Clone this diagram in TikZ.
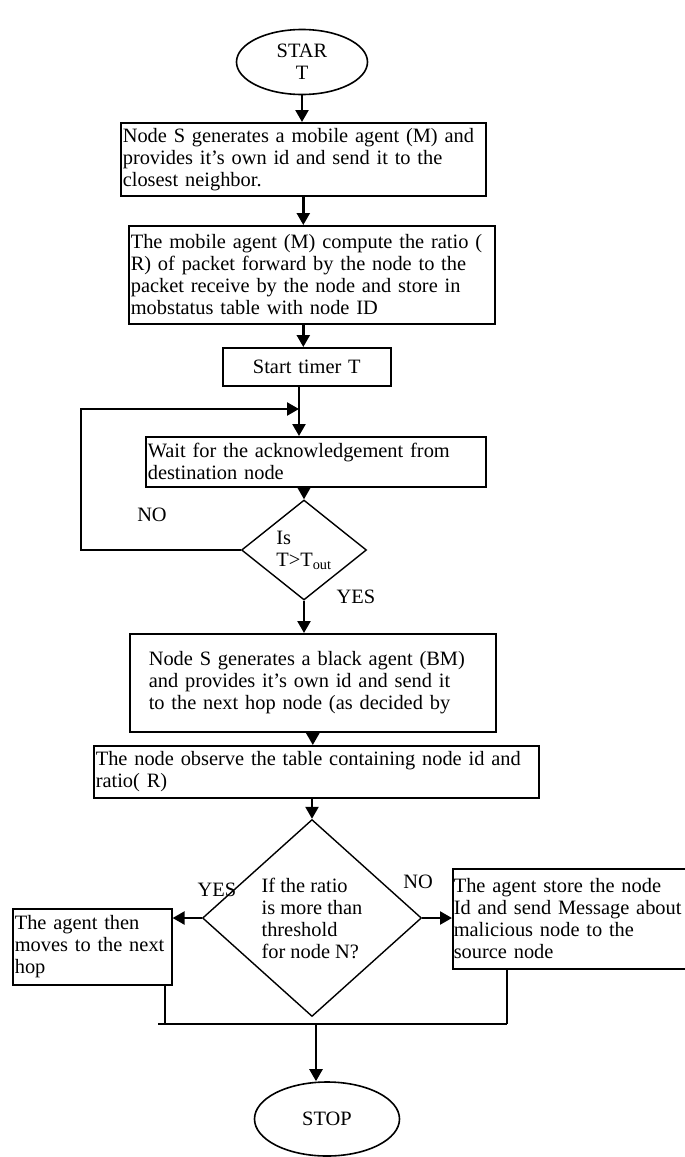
\documentclass[tikz,border=0pt]{standalone}
\usepackage{fontspec}
\setmainfont{Liberation Serif}
\usetikzlibrary{shapes.geometric,arrows.meta}

\begin{document}
\begin{tikzpicture}[
    x=1pt, y=-1pt,
    every node/.style={font=\fontsize{20.4}{22}\selectfont},
    box/.style={draw, line width=1.6pt, anchor=north west, align=left,
      inner xsep=2pt, inner ysep=0pt},
    terminal/.style={draw, ellipse, line width=1.6pt, align=center, inner sep=0pt},
    decision/.style={draw, diamond, line width=1.4pt, align=left, inner sep=0pt},
    arr/.style={line width=2.4pt, -{Triangle[length=12pt,width=13pt]}},
    link/.style={line width=1.8pt}
   ]
   \useasboundingbox (0,0) rectangle (685,1157);
   % main column
   \node[terminal, minimum width=131pt, minimum height=65pt] (start) at (302,62) {STAR\\T};
   \node[box, text width=361pt, minimum height=73pt] (gen) at (120,122)
     {Node S generates a mobile agent (M) and\\provides it’s own id and send it to the\\closest neighbor.};
   \node[box, text width=362pt, minimum height=98pt] (ratio) at (128,225)
     {The mobile agent (M) compute the ratio (\\R) of packet forward by the node to the\\packet receive by the node and store in\\mobstatus table with node ID};
   \node[box, text width=164pt, minimum height=38pt, align=center] (timer) at (222,347) {Start timer T};
   \node[box, text width=336pt, minimum height=50pt] (wait) at (145,436)
     {Wait for the acknowledgement from\\destination node};
   \node[decision, minimum width=125pt, minimum height=100pt, shape aspect=1.25] (chk) at (304,550)
     {Is\\T>T\textsubscript{out}};
   \node (no1) at (152,515) {NO};
   \node (yes1) at (356,597) {YES};
   \node[box, text width=328pt, inner xsep=19pt, minimum height=98pt] (bm) at (129,633)
     {Node S generates a black agent (BM)\\and provides it’s own id and send it\\to the next hop node (as decided by};
   \node[box, text width=441pt, minimum height=52pt] (obs) at (93,745)
     {The node observe the table containing node id and\\ratio( R)};
   \node[decision, minimum width=219pt, minimum height=197pt, shape aspect=1.1] (thr) at (312,918)
     {If the ratio\\is more than\\threshold\\for node N?};
   \node (yes2) at (217,890) {YES};
   \node (no2) at (418,882) {NO};
   % branches
   \node[box, text width=155pt, minimum height=76pt] (hop) at (12,908)
     {The agent then\\moves to the next\\hop};
   \node[box, text width=234pt, minimum height=100pt, inner xsep=1pt] (rep) at (452,868)
     {The agent store the node\\Id and send Message about\\malicious node to the\\source node};
   \node[terminal, minimum width=145pt, minimum height=74pt] (stop) at (327,1119) {STOP};

   \coordinate (mrg) at (299,409);
   \coordinate (loop) at (81,409);
   \coordinate (busL) at (158,1024);
   \coordinate (busR) at (507,1024);
   \coordinate (busH) at (165,1024);
   \coordinate (bus) at (316,1024);

   \draw[arr] (start.south) -- (start.south |- gen.north);
   \draw[arr] (gen.south) -- (gen.south |- ratio.north);
   \draw[arr] (ratio.south -| gen.south) -- (timer.north -| gen.south);
   \draw[link] (timer.south -| mrg) -- (mrg);
   \draw[arr] (mrg) -- (wait.north -| mrg);
   \draw[arr] (wait.south -| chk.north) -- (chk.north);
   \draw[arr] (chk.west) -| (loop) -- (mrg);
   \draw[arr] (chk.south) -- (chk.south |- bm.north);
   \draw[arr] (bm.south) -- (bm.south |- obs.north);
   \draw[arr] (obs.south -| thr.north) -- (thr.north);
   \draw[arr] (thr.west) -- (thr.west -| hop.east);
   \draw[arr] (thr.east) -- (thr.east -| rep.west);
   \draw[link] (busL) -- (busR);
   \draw[link] (busH |- hop.south) -- (busH);
   \draw[link] (busR |- rep.south) -- (busR);
   \draw[arr] (bus) -- (bus |- stop.north);
\end{tikzpicture}
\end{document}
